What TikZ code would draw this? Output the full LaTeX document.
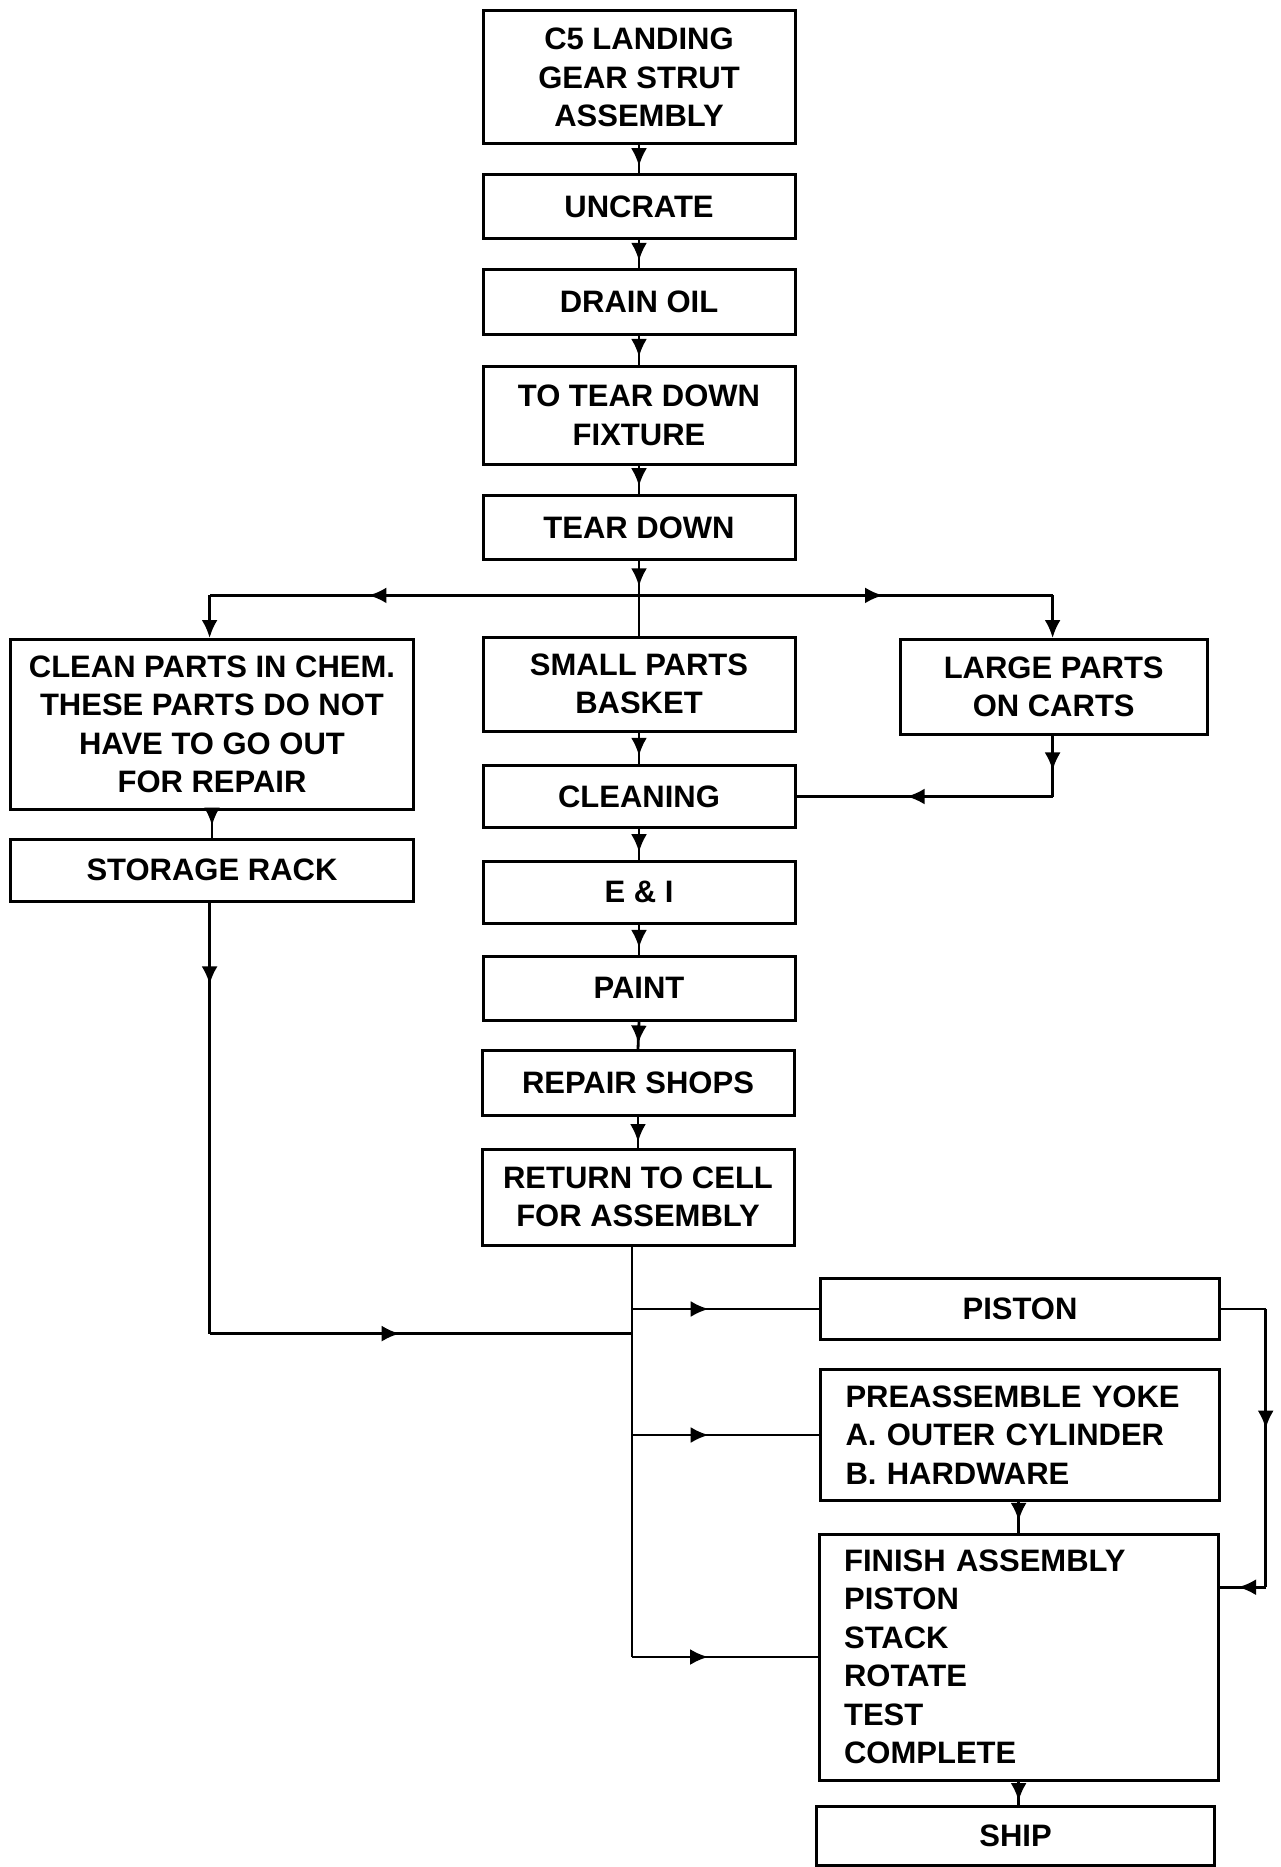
\documentclass[tikz,border=0pt]{standalone}
\usepackage{fontspec}
\setmainfont{Liberation Sans}
\usetikzlibrary{arrows.meta,decorations.markings}
\tikzset{
  pbox/.style={draw, line width=3pt, minimum height=#1, align=center, inner sep=0pt,
    font=\bfseries\fontsize{31}{38.5}\selectfont},
  conn/.style={line width=2.8pt},
  midarrow/.style={conn, postaction={decorate}, decoration={markings,
    mark=at position #1 with {\arrow{Latex[length=18pt,width=16pt]}}}},
  midarrow/.default=0.75,
  endarrow/.style={conn, -{Latex[length=18pt,width=16pt]}}
}
\begin{document}
\begin{tikzpicture}[x=1pt,y=-1pt]
\fill[white] (0,0) rectangle (1280,1867);
\useasboundingbox (0,0) rectangle (1280,1867);

% main column
\node[pbox=133, minimum width=312] (c5) at (639,77.4) {C5 LANDING\\GEAR STRUT\\ASSEMBLY};
\node[pbox=64, minimum width=312] (uncrate) at (639,207) {UNCRATE};
\node[pbox=65, minimum width=312] (drain) at (639,302) {DRAIN OIL};
\node[pbox=98, minimum width=312] (totear) at (639,415.5) {TO TEAR DOWN\\FIXTURE};
\node[pbox=64, minimum width=312] (tear) at (639,527.5) {TEAR DOWN};
\node[pbox=94, minimum width=312] (small) at (639,684) {SMALL PARTS\\BASKET};
\node[pbox=62, minimum width=312] (cleaning) at (639,796.5) {CLEANING};
\node[pbox=62, minimum width=312] (ei) at (639,892) {E \& I};
\node[pbox=64, minimum width=312] (paint) at (639,988) {PAINT};
\node[pbox=65, minimum width=312] (repair) at (638,1083) {REPAIR SHOPS};
\node[pbox=96, minimum width=312] (ret) at (638,1197) {RETURN TO CELL\\FOR ASSEMBLY};

% side boxes
\node[pbox=170, minimum width=402.5] (clean) at (212,724.5) {CLEAN PARTS IN CHEM.\\THESE PARTS DO NOT\\HAVE TO GO OUT\\FOR REPAIR};
\node[pbox=62, minimum width=402.5] (storage) at (212,870) {STORAGE RACK};
\node[pbox=95, minimum width=307] (large) at (1053.7,687) {LARGE PARTS\\ON CARTS};

% assembly boxes
\node[pbox=61, minimum width=399] (piston) at (1020,1309) {PISTON};
\node[pbox=131, text width=349, inner xsep=25, align=left] (pre) at (1020,1435) {PREASSEMBLE YOKE\\A. OUTER CYLINDER\\B. HARDWARE};
\node[pbox=246, text width=349, inner xsep=25, align=left] (finish) at (1018.6,1657) {FINISH ASSEMBLY\\PISTON\\STACK\\ROTATE\\TEST\\COMPLETE};
\node[pbox=59, minimum width=398] (ship) at (1015.6,1835.5) {SHIP};

% main column connectors
\draw[midarrow=0.74] (c5.south) -- (uncrate.north);
\draw[midarrow=0.74] (uncrate.south) -- (drain.north);
\draw[midarrow=0.72] (drain.south) -- (totear.north);
\draw[midarrow=0.72] (totear.south) -- (tear.north);
\draw[midarrow=0.34] (tear.south) -- (small.north);
\draw[midarrow=0.74] (small.south) -- (cleaning.north);
\draw[midarrow=0.76] (cleaning.south) -- (ei.north);
\draw[midarrow=0.78] (ei.south) -- (paint.north);
\draw[midarrow=0.8] (paint.south) -- (repair.north);
\draw[midarrow=0.82] (repair.south) -- (ret.north);

% branching after tear down
\coordinate (j) at (639,595.4);
\coordinate (jl) at (209.6,595.4);
\coordinate (jr) at (1052.6,595.4);
\draw[midarrow=0.63] (j) -- (jl);
\draw[endarrow] (jl) -- (jl |- clean.north);
\draw[midarrow=0.59] (j) -- (jr);
\draw[endarrow] (jr) -- (jr |- large.north);

% large parts to cleaning
\coordinate (lc) at (1052.6,796.5);
\draw[midarrow=0.57] (large.south -| lc) -- (lc);
\draw[midarrow=0.57] (lc) -- (cleaning.east);

% clean -> storage -> trunk
\draw[midarrow=0.55] (clean.south) -- (storage.north);
\coordinate (sl) at (209.6,1333.6);
\coordinate (sj) at (632,1333.6);
\draw[midarrow=0.19] (storage.south -| sl) -- (sl);
\draw[midarrow=0.45] (sl) -- (sj);

% trunk from return to cell
\draw[conn] (ret.south -| sj) -- (sj |- finish.west);
\draw[midarrow=0.41] (sj |- piston.west) -- (piston.west);
\draw[midarrow=0.41] (sj |- pre.west) -- (pre.west);
\draw[midarrow=0.41] (sj |- finish.west) -- (finish.west);

% piston -> finish
\coordinate (pr) at (1265.7,1309);
\coordinate (pf) at (1265.7,1587.2);
\draw[conn] (piston.east) -- (pr);
\draw[midarrow=0.43] (pr) -- (pf);
\draw[midarrow=0.6] (pf) -- (finish.east |- pf);

% preassemble -> finish -> ship
\draw[midarrow=0.62] (pre.south -| finish.north) -- (finish.north);
\draw[midarrow=0.85] (finish.south) -- (finish.south |- ship.north);
\end{tikzpicture}
\end{document}
